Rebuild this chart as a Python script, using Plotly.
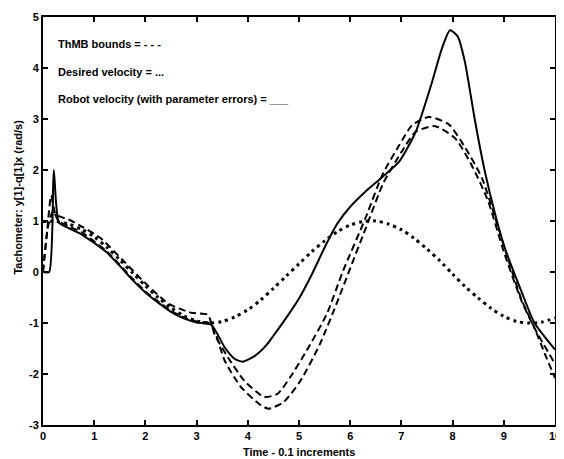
import plotly.graph_objects as go

# Desired velocity (dotted)
t_des = [0, 0.25, 0.5, 0.75, 1.0, 1.25, 1.5, 1.75, 2.0, 2.25, 2.5, 2.75, 3.0, 3.25, 3.5,
         3.75, 4.0, 4.25, 4.5, 4.75, 5.0, 5.25, 5.5, 5.75, 6.0, 6.25, 6.5, 6.75, 7.0,
         7.25, 7.5, 7.75, 8.0, 8.25, 8.5, 8.75, 9.0, 9.25, 9.5, 9.75, 10.0]
v_des = [0.99, 0.99, 0.94, 0.84, 0.69, 0.48, 0.24, -0.02, -0.27, -0.50, -0.70, -0.86,
         -0.96, -1.0, -0.97, -0.88, -0.74, -0.55, -0.32, -0.08, 0.16, 0.40, 0.61, 0.79,
         0.92, 0.99, 1.0, 0.94, 0.83, 0.66, 0.45, 0.22, -0.04, -0.29, -0.51, -0.71,
         -0.87, -0.97, -1.0, -0.98, -0.90]

# Robot velocity with parameter errors (solid)
t_rob = [0, 0.12, 0.21, 0.31, 0.5, 0.75, 1.0, 1.25, 1.5, 1.75, 2.0, 2.25, 2.5, 2.75, 3.0,
         3.29, 3.55, 3.74, 3.9, 4.13, 4.35, 4.5, 4.75, 5.0, 5.25, 5.5, 5.75, 6.0, 6.3, 6.6,
         6.96, 7.28, 7.6, 7.79, 7.95, 8.1, 8.24, 8.44, 8.63, 8.85, 9.02, 9.34, 9.6, 10.0]
v_rob = [0, 0, 2.0, 0.97, 0.86, 0.74, 0.57, 0.38, 0.12, -0.16, -0.40, -0.60, -0.78, -0.91,
         -0.99, -1.04, -1.48, -1.70, -1.76, -1.65, -1.45, -1.25, -0.90, -0.52, -0.05, 0.48,
         0.95, 1.28, 1.58, 1.84, 2.17, 2.75, 3.73, 4.38, 4.74, 4.62, 4.12, 2.95, 1.97, 1.06,
         0.47, -0.37, -1.0, -1.52]

# ThMB bounds (dashed), bound A
t_bA = [0, 0.08, 0.16, 0.24, 0.35, 0.5, 0.78, 1.13, 1.55, 2.0, 2.45, 2.9, 3.22, 3.35, 3.61,
        3.93, 4.32, 4.58, 4.83, 5.15, 5.54, 5.86, 6.3, 6.63, 6.96, 7.21, 7.54, 7.92, 8.24,
        8.57, 8.82, 9.1, 9.35, 9.6, 9.8, 10.0]
v_bA = [0, 0.8, 1.5, 1.15, 1.08, 1.03, 0.88, 0.66, 0.24, -0.22, -0.62, -0.80, -0.84, -1.22,
        -1.67, -2.13, -2.45, -2.39, -2.06, -1.54, -0.83, 0.02, 1.06, 1.91, 2.49, 2.88, 3.04,
        2.9, 2.45, 1.85, 1.1, 0.2, -0.55, -1.1, -1.6, -2.08]

# ThMB bounds (dashed), bound B
t_bB = [0, 0.1, 0.2, 0.3, 0.5, 0.75, 1.0, 1.25, 1.5, 1.75, 2.0, 2.25, 2.5, 2.75, 3.0, 3.25,
        3.35, 3.55, 3.87, 4.25, 4.41, 4.70, 5.03, 5.41, 5.73, 5.93, 6.3, 6.65, 7.0, 7.28,
        7.66, 8.05, 8.37, 8.69, 9.0, 9.34, 9.6, 10.0]
v_bB = [0, 0.9, 1.2, 1.0, 0.9, 0.78, 0.6, 0.4, 0.14, -0.13, -0.38, -0.58, -0.76, -0.89,
        -0.97, -1.0, -1.15, -1.74, -2.26, -2.61, -2.68, -2.55, -2.13, -1.41, -0.63, -0.11,
        0.85, 1.75, 2.35, 2.75, 2.86, 2.62, 2.1, 1.4, 0.4, -0.55, -1.1, -1.8]

x_ticks = [0, 1, 2, 3, 4, 5, 6, 7, 8, 9, 10]
x_ticktext = ["0", "1", "2", "3", "4", "5", "6", "7", "8", "9", "10"]
y_ticks = [-3, -2, -1, 0, 1, 2, 3, 4, 5]
y_ticktext = ["-3", "-2", "-1", "0", "1", "2", "3", "4", "5"]

legend_lines = ["ThMB bounds = - - -", "Desired velocity = ...",
                "Robot velocity (with parameter errors) = ___"]
legend_y = [4.47, 3.92, 3.40]

FONT = "Liberation Sans, Arial, sans-serif"
fig = go.Figure()

fig.add_trace(go.Scatter(x=t_des, y=v_des, mode="lines",
                         line=dict(color="black", width=3, dash="3px,4px", shape="spline", smoothing=0.8)))
fig.add_trace(go.Scatter(x=t_bA, y=v_bA, mode="lines",
                         line=dict(color="black", width=2, dash="7px,4px", shape="spline", smoothing=0.6)))
fig.add_trace(go.Scatter(x=t_bB, y=v_bB, mode="lines",
                         line=dict(color="black", width=2, dash="7px,4px", shape="spline", smoothing=0.6)))
fig.add_trace(go.Scatter(x=t_rob, y=v_rob, mode="lines",
                         line=dict(color="black", width=2, shape="spline", smoothing=0.6)))

for txt, yy in zip(legend_lines, legend_y):
    fig.add_annotation(x=0.25, y=yy, xref="x", yref="y", text=txt, showarrow=False,
                       xanchor="left", yanchor="middle",
                       font=dict(family=FONT, size=11, color="black", weight="bold"))

fig.add_annotation(x=-0.048, y=0.5585, xref="paper", yref="paper",
                   text="Tachometer: y[1]-q[1]x (rad/s)", textangle=-90, showarrow=False,
                   xanchor="center", yanchor="middle",
                   font=dict(family=FONT, size=11, color="black", weight="bold"))
fig.add_annotation(x=0.5, y=-0.066, xref="paper", yref="paper",
                   text="Time - 0.1 increments", showarrow=False,
                   xanchor="center", yanchor="middle",
                   font=dict(family=FONT, size=11, color="black", weight="bold"))

axis_common = dict(showgrid=False, zeroline=False, showline=True, linecolor="black",
                   linewidth=2, mirror="ticks", ticks="inside", ticklen=5, tickwidth=1.5,
                   tickcolor="black", ticklabeloverflow="allow",
                   tickfont=dict(family=FONT, size=11, color="black", weight="bold"))
fig.update_xaxes(range=[0, 10], tickvals=x_ticks, ticktext=x_ticktext, **axis_common)
fig.update_yaxes(range=[-3, 5], tickvals=y_ticks, ticktext=y_ticktext, **axis_common)

# page body adds an 8px offset, so the figure is sized to fit the window from there
fig.update_layout(width=556, height=451, showlegend=False,
                  margin=dict(l=35, r=3, t=7, b=34),
                  plot_bgcolor="white", paper_bgcolor="white")

fig.write_html("out.html")
